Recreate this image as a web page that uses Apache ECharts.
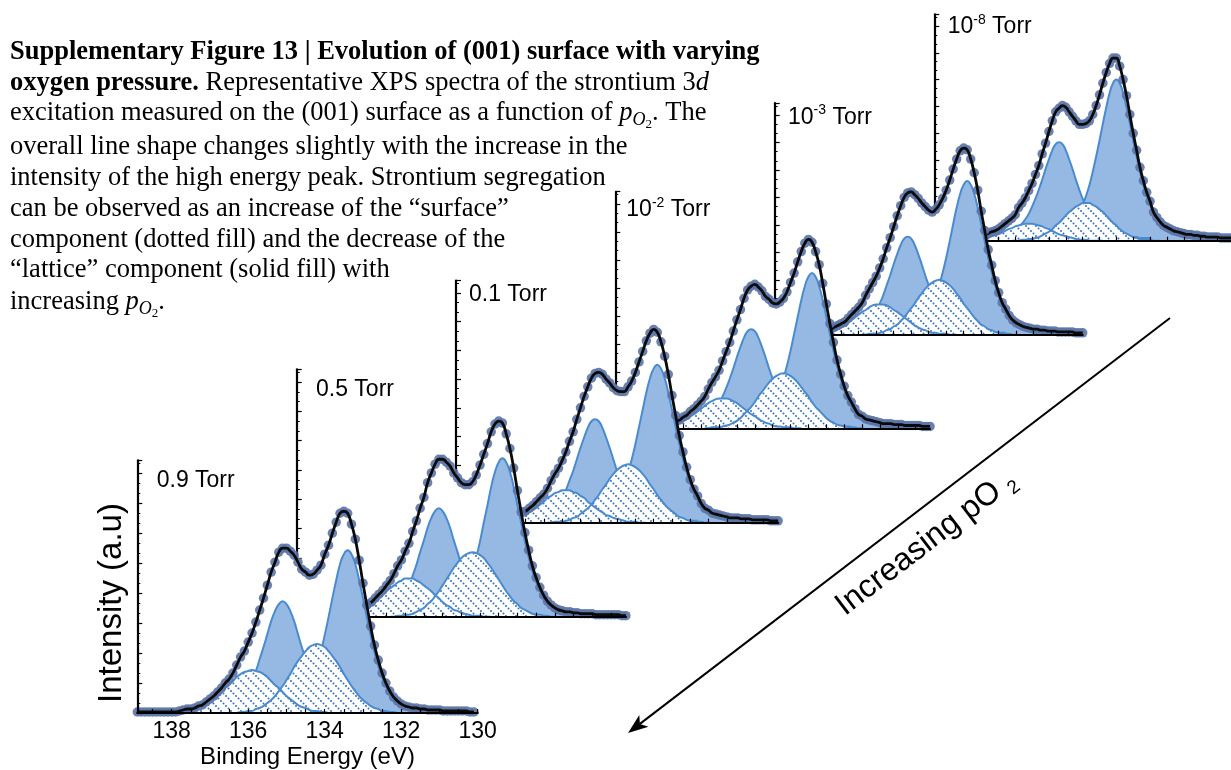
<!DOCTYPE html>
<html><head><meta charset="utf-8">
<script src="https://cdn.jsdelivr.net/npm/echarts@6/dist/echarts.min.js"></script>
<style>html,body{margin:0;padding:0;background:#fff}#chart{width:1231px;height:770px}</style>
</head><body><div id="chart"></div>
<script>
// ================= DATA =================
// Spectra are tabulated on a binding-energy grid: 138.9 eV down to 130.1 eV, 0.1 eV apart
const energyStart = 138.9;
const energyStep = 0.1;
const energyCount = 89;
const energyTicks = [138.5,138,137.5,137,136.5,136,135.5,135,134.5,134,133.5,133,132.5,132,131.5,131,130.5,130];
const energyLabels = [138,136,134,132,130];
const pressureLabels = ['0.9 Torr','0.5 Torr','0.1 Torr','10{sup|-2} Torr','10{sup|-3} Torr','10{sup|-8} Torr'];

// first energy (eV) of each tabulated fit component, per panel (0.9 Torr ... 1e-8 Torr)
const lattice52Start = [136.3,136.3,136.3,136.3,136.3,136.4];
const lattice32Start = [138.9,138.9,138.9,138.9,138.9,138.9];
const surface52Start = [136.4,136.4,136.4,136.4,136.4,136.6];
const surface32Start = [138.1,138.1,138.1,138.1,138.1,138.3];

// ---- 0.9 Torr ----
const lattice52_0p9Torr = [2,2,2,2,2,3,3,3,3,4,4,5,5,6,7,9,12,15,20,27,36,47,61,78,96,115,133,149,159,163,159,149,133,115,96,78,61,47,36,27,20,15,12,9,7,6,5,5,4,4,3,3,3,3,2,2,2,2,2,2,2,1,1];
const lattice32_0p9Torr = [1,1,1,1,1,1,1,1,1,1,1,1,2,2,2,2,2,2,3,3,3,4,4,5,6,8,10,14,18,25,33,42,54,66,79,92,102,109,112,109,102,92,79,66,54,42,33,25,18,14,10,8,6,5,4,4,3,3,3,2,2,2,2,2,2,1,1];
const surface52_0p9Torr = [0,0,1,1,2,2,4,5,7,10,13,17,22,27,33,39,46,52,57,62,66,68,69,68,66,62,57,52,46,39,33,27,22,17,13,10,7,5,4,2,2,1,1,0,0];
const surface32_0p9Torr = [0,0,0,1,1,2,2,3,5,6,8,11,14,17,21,25,28,32,36,39,41,42,43,42,41,39,36,32,28,25,21,17,14,11,8,6,5,3,2,2,1,1,0,0,0];
// ---- 0.5 Torr ----
const lattice52_0p5Torr = [2,2,2,2,2,3,3,3,3,4,4,5,5,6,7,9,12,15,20,27,36,47,61,77,96,114,133,148,158,162,158,148,133,114,96,77,61,47,36,27,20,15,12,9,7,6,5,5,4,4,3,3,3,3,2,2,2,2,2,2,2,1,1];
const lattice32_0p5Torr = [1,1,1,1,1,1,1,1,1,1,1,1,2,2,2,2,2,2,3,3,3,4,4,5,6,8,10,14,18,24,32,42,53,66,78,91,101,108,111,108,101,91,78,66,53,42,32,24,18,14,10,8,6,5,4,4,3,3,3,2,2,2,2,2,2,1,1];
const surface52_0p5Torr = [0,0,1,1,2,2,3,5,7,9,13,16,21,26,32,38,44,50,55,60,63,65,66,65,63,60,55,50,44,38,32,26,21,16,13,9,7,5,3,2,2,1,1,0,0];
const surface32_0p5Torr = [0,0,0,1,1,1,2,3,4,6,7,10,12,15,19,22,26,29,32,35,37,39,39,39,37,35,32,29,26,22,19,15,12,10,7,6,4,3,2,1,1,1,0,0,0];
// ---- 0.1 Torr ----
const lattice52_0p1Torr = [3,3,3,3,4,4,4,5,5,5,6,7,8,9,10,13,15,19,25,32,41,53,66,82,100,118,136,151,161,165,161,151,136,118,100,82,66,53,41,32,25,19,15,13,10,9,8,7,6,5,5,5,4,4,4,3,3,3,3,3,2,2,2];
const lattice32_0p1Torr = [1,1,1,1,1,1,1,2,2,2,2,2,2,2,3,3,3,3,4,4,4,5,6,7,8,10,13,16,21,27,34,44,54,66,78,89,99,106,108,106,99,89,78,66,54,44,34,27,21,16,13,10,8,7,6,5,4,4,4,3,3,3,3,2,2,2,2];
const surface52_0p1Torr = [0,0,1,1,1,2,3,5,6,9,12,15,19,24,29,35,40,46,51,55,58,60,61,60,58,55,51,46,40,35,29,24,19,15,12,9,6,5,3,2,1,1,1,0,0];
const surface32_0p1Torr = [0,0,0,1,1,1,2,3,4,5,7,8,11,13,16,19,22,26,28,31,32,34,34,34,32,31,28,26,22,19,16,13,11,8,7,5,4,3,2,1,1,1,0,0,0];
// ---- 1e-2 Torr ----
const lattice52_1em2Torr = [3,3,3,3,4,4,4,5,5,5,6,7,8,9,10,13,15,20,25,32,41,53,67,83,101,119,137,152,162,166,162,152,137,119,101,83,67,53,41,32,25,20,15,13,10,9,8,7,6,5,5,5,4,4,4,3,3,3,3,3,2,2,2];
const lattice32_1em2Torr = [1,1,1,1,1,1,1,2,2,2,2,2,2,2,2,3,3,3,3,4,4,5,6,7,8,10,12,16,20,26,34,43,53,64,76,87,97,104,106,104,97,87,76,64,53,43,34,26,20,16,12,10,8,7,6,5,4,4,3,3,3,3,2,2,2,2,2];
const surface52_1em2Torr = [0,0,1,1,1,2,3,4,6,8,11,15,19,23,28,34,39,44,49,53,56,58,59,58,56,53,49,44,39,34,28,23,19,15,11,8,6,4,3,2,1,1,1,0,0];
const surface32_1em2Torr = [0,0,0,1,1,1,2,2,3,5,6,8,10,13,15,18,21,24,27,29,31,32,32,32,31,29,27,24,21,18,15,13,10,8,6,5,3,2,2,1,1,1,0,0,0];
// ---- 1e-3 Torr ----
const lattice52_1em3Torr = [3,3,3,3,4,4,4,5,5,6,6,7,8,9,11,13,16,20,25,32,42,54,68,84,102,121,139,154,164,168,164,154,139,121,102,84,68,54,42,32,25,20,16,13,11,9,8,7,6,6,5,5,4,4,4,3,3,3,3,3,2,2,2];
const lattice32_1em3Torr = [1,1,1,1,1,1,1,2,2,2,2,2,2,2,3,3,3,3,4,4,4,5,6,7,8,10,13,16,21,27,34,43,54,65,77,88,98,105,107,105,98,88,77,65,54,43,34,27,21,16,13,10,8,7,6,5,4,4,4,3,3,3,3,2,2,2,2];
const surface52_1em3Torr = [0,0,1,1,1,2,3,5,6,9,11,15,19,24,29,34,40,45,50,54,57,59,60,59,57,54,50,45,40,34,29,24,19,15,11,9,6,5,3,2,1,1,1,0,0];
const surface32_1em3Torr = [0,0,0,1,1,1,2,2,3,5,6,8,10,13,16,19,22,25,27,30,32,33,33,33,32,30,27,25,22,19,16,13,10,8,6,5,3,2,2,1,1,1,0,0,0];
// ---- 1e-8 Torr ----
const lattice52_1em8Torr = [4,4,4,5,5,6,6,7,7,8,9,10,11,13,15,17,21,26,32,40,50,62,77,94,112,131,149,165,176,180,176,165,149,131,112,94,77,62,50,40,32,26,21,17,15,13,11,10,9,8,7,7,6,6,5,5,4,4,4,4,3,3,3,3];
const lattice32_1em8Torr = [2,2,2,2,2,2,2,2,2,3,3,3,3,3,4,4,4,5,5,6,7,8,9,11,13,16,19,24,30,38,47,57,68,80,91,101,108,110,108,101,91,80,68,57,47,38,30,24,19,16,13,11,9,8,7,6,5,5,4,4,4,3,3,3,3];
const surface52_1em8Torr = [0,0,0,1,1,2,2,3,4,6,8,10,13,17,20,24,28,32,35,38,40,42,42,42,40,38,35,32,28,24,20,17,13,10,8,6,4,3,2,2,1,1,0,0,0];
const surface32_1em8Torr = [0,0,0,0,0,1,1,1,2,3,4,5,6,7,9,11,13,14,16,17,18,19,19,19,18,17,16,14,13,11,9,7,6,5,4,3,2,1,1,1,0,0,0,0,0];

const captionLines = [
  'Supplementary Figure 13 | Evolution of (001) surface with varying',
  '{b|oxygen pressure.} Representative XPS spectra of the strontium 3{i|d}',
  'excitation measured on the (001) surface as a function of {i|p}{sub|O}{sub2|2}. The',
  'overall line shape changes slightly with the increase in the',
  'intensity of the high energy peak. Strontium segregation',
  'can be observed as an increase of the \u201Csurface\u201D',
  'component (dotted fill) and the decrease of the',
  '\u201Clattice\u201D component (solid fill) with',
  'increasing {i|p}{sub|O}{sub2|2}.'
];

// ================= LAYOUT (pixels) =================
const panelLeft = [137.3, 296.7, 456, 615.3, 774.7, 934.3];
const panelBottom = [713.3, 616.7, 522.7, 428.3, 334.7, 240.7];
const panelScale = [1, 0.978, 0.957, 0.935, 0.915, 0.895];
const pxPerEV = 38.25, fullHeight = 253, intensityMax = 253;
const axisMin = [130, 130.1, 130.1, 130.1, 130.1, 130.1], axisMax = 138.9;
const labelX = [156.7, 316, 469, 626.3, 788, 947.7];
const labelY = [480.7, 389.3, 295, 210, 117.3, 26.7];
const captionY = [52, 83, 113, 147, 178, 209, 240, 270, 302];

// ================= BUILD =================
const lattice52 = [lattice52_0p9Torr, lattice52_0p5Torr, lattice52_0p1Torr, lattice52_1em2Torr, lattice52_1em3Torr, lattice52_1em8Torr];
const lattice32 = [lattice32_0p9Torr, lattice32_0p5Torr, lattice32_0p1Torr, lattice32_1em2Torr, lattice32_1em3Torr, lattice32_1em8Torr];
const surface52 = [surface52_0p9Torr, surface52_0p5Torr, surface52_0p1Torr, surface52_1em2Torr, surface52_1em3Torr, surface52_1em8Torr];
const surface32 = [surface32_0p9Torr, surface32_0p5Torr, surface32_0p1Torr, surface32_1em2Torr, surface32_1em3Torr, surface32_1em8Torr];

const toPoints = (start, vals) => vals.map((v, j) => [Math.round((start - energyStep * j) * 10) / 10, v]);
function envelopePoints(comps) {
  const out = [];
  for (let i = 0; i < energyCount; i++) {
    const e = Math.round((energyStart - energyStep * i) * 10) / 10;
    let s = 0;
    comps.forEach(c => {
      const j = Math.round((c.start - e) / energyStep);
      if (j >= 0 && j < c.values.length) s += c.values[j];
    });
    out.push([e, s]);
  }
  return out;
}

// dotted diagonal hatch pattern for the "surface" components
const hatch = document.createElement('canvas');
hatch.width = 10; hatch.height = 10;
const hc = hatch.getContext('2d');
hc.fillStyle = '#ffffff'; hc.fillRect(0, 0, 10, 10);
hc.fillStyle = '#3571bb';
for (let t = 0; t < 10; t += 2.5) { hc.beginPath(); hc.arc(t + 1, t + 1, 1.0, 0, Math.PI * 2); hc.fill(); }

const LINE_BLUE = '#4a8bcf', FILL_BLUE = '#95b9e2';
const grids = [], xAxes = [], yAxes = [], series = [], graphics = [];

for (let k = 0; k < 6; k++) {
  const s = panelScale[k];
  const h = fullHeight * s;
  const w = (axisMax - axisMin[k]) * pxPerEV * s;
  grids.push({left: panelLeft[k], top: panelBottom[k] - h, width: w, height: h, containLabel: false});
  const zb = (6 - k) * 10;
  xAxes.push({
    gridIndex: k, type: 'value', inverse: true, min: axisMin[k], max: axisMax, z: zb + 6,
    axisLine: {show: true, onZero: false, lineStyle: {color: '#000', width: 2.2}},
    axisTick: {show: true, inside: true, length: 4, customValues: energyTicks.filter(v => v >= axisMin[k]), lineStyle: {color: '#000', width: 1.2}},
    axisLabel: {show: k === 0, customValues: energyLabels, color: '#000', fontSize: 23, fontFamily: 'Liberation Sans', margin: 7},
    splitLine: {show: false},
    name: k === 0 ? 'Binding Energy (eV)' : '', nameLocation: 'middle', nameGap: 32,
    nameTextStyle: {color: '#000', fontSize: 24, fontFamily: 'Liberation Sans'}
  });
  yAxes.push({
    gridIndex: k, type: 'value', min: 0, max: intensityMax, interval: 30, z: zb + 6,
    axisLine: {show: true, onZero: false, lineStyle: {color: '#000', width: 2.2}},
    axisTick: {show: true, inside: true, length: 5, lineStyle: {color: '#000', width: 1.2}},
    minorTick: {show: true, splitNumber: 3, length: 3, lineStyle: {color: '#000', width: 1}},
    axisLabel: {show: false}, splitLine: {show: false}
  });
  const comps = [
    {start: lattice32Start[k], values: lattice32[k]},
    {start: lattice52Start[k], values: lattice52[k]},
    {start: surface32Start[k], values: surface32[k]},
    {start: surface52Start[k], values: surface52[k]}
  ];
  const env = envelopePoints(comps);
  const base = {xAxisIndex: k, yAxisIndex: k, silent: true, animation: false, clip: false};
  series.push(Object.assign({}, base, {type: 'line', data: env, smooth: true, symbol: 'none',
    lineStyle: {width: 0, opacity: 0}, areaStyle: {color: '#ffffff', opacity: 1}, z: zb + 1}));
  comps.slice(0, 2).forEach(c => series.push(Object.assign({}, base, {type: 'line', data: toPoints(c.start, c.values), smooth: true, symbol: 'none',
    lineStyle: {color: LINE_BLUE, width: 2}, areaStyle: {color: FILL_BLUE, opacity: 1}, z: zb + 2})));
  comps.slice(2).forEach(c => series.push(Object.assign({}, base, {type: 'line', data: toPoints(c.start, c.values), smooth: true, symbol: 'none',
    lineStyle: {color: LINE_BLUE, width: 2}, areaStyle: {color: {image: hatch, repeat: 'repeat'}, opacity: 1}, z: zb + 3})));
  series.push(Object.assign({}, base, {type: 'scatter', data: env, symbolSize: 9.5,
    itemStyle: {color: '#5b74a7', opacity: 0.9}, z: zb + 4}));
  series.push(Object.assign({}, base, {type: 'line', data: env, smooth: true, symbol: 'none',
    lineStyle: {color: '#0a0a0a', width: 2.8}, z: zb + 5}));

  graphics.push({type: 'text', x: labelX[k], y: labelY[k], z: 100, silent: true,
    style: {text: pressureLabels[k], fontSize: 23, fontFamily: 'Liberation Sans', fill: '#000',
      lineHeight: 28, align: 'left', verticalAlign: 'middle', textAlign: 'left', textVerticalAlign: 'middle',
      rich: {sup: {fontSize: 14, fontFamily: 'Liberation Sans', fill: '#000', verticalAlign: 'top', lineHeight: 14}}}});
}

const SERIF = 'Liberation Serif', CAP = 26.5;
captionLines.forEach((t, i) => {
  const hasSub = t.indexOf('{sub|') >= 0;
  graphics.push({type: 'text', x: 10, y: captionY[i], z: 100, silent: true,
    style: {text: t, fontSize: CAP, fontFamily: SERIF, fontWeight: i === 0 ? 'bold' : 'normal', fill: '#000',
      lineHeight: hasSub ? 36 : 30, align: 'left', verticalAlign: 'middle', textAlign: 'left', textVerticalAlign: 'middle',
      rich: {
        b: {fontSize: CAP, fontFamily: SERIF, fontWeight: 'bold', fill: '#000'},
        i: {fontSize: CAP, fontFamily: SERIF, fontStyle: 'italic', fill: '#000'},
        sub: {fontSize: 18, fontFamily: SERIF, fontStyle: 'italic', fill: '#000', verticalAlign: 'bottom', lineHeight: 18, padding: [0, 0, 2, 0]},
        sub2: {fontSize: 13, fontFamily: SERIF, fill: '#000', verticalAlign: 'bottom', lineHeight: 13}
      }}});
});

graphics.push({type: 'text', x: 112, y: 603, rotation: Math.PI / 2, z: 100, silent: true,
  style: {text: 'Intensity (a.u)', fontSize: 33, fontFamily: 'Liberation Sans', fill: '#000',
    align: 'center', verticalAlign: 'middle', textAlign: 'center', textVerticalAlign: 'middle'}});

// arrow "Increasing pO2"
graphics.push({type: 'line', z: 100, silent: true, shape: {x1: 1170, y1: 318, x2: 639.9, y2: 723.9}, style: {stroke: '#000', lineWidth: 2}});
graphics.push({type: 'polygon', z: 100, silent: true, shape: {points: [[628, 733], [648.5, 726.8], [639.9, 723.9], [639.3, 714.9]]}, style: {fill: '#000'}});
graphics.push({type: 'text', x: 926, y: 543, rotation: 0.6536, z: 100, silent: true,
  style: {text: 'Increasing pO{s|2}', fontSize: 32, fontFamily: 'Liberation Sans', fill: '#000', lineHeight: 38,
    align: 'center', verticalAlign: 'middle', textAlign: 'center', textVerticalAlign: 'middle',
    rich: {s: {fontSize: 19, fontFamily: 'Liberation Sans', fill: '#000', verticalAlign: 'bottom', lineHeight: 18, padding: [0, 0, 0, 8]}}}});

const chart = echarts.init(document.getElementById('chart'), null, {renderer: 'canvas'});
chart.setOption({
  backgroundColor: '#ffffff',
  animation: false,
  grid: grids, xAxis: xAxes, yAxis: yAxes, series: series,
  graphic: {elements: graphics}
});
</script></body></html>
